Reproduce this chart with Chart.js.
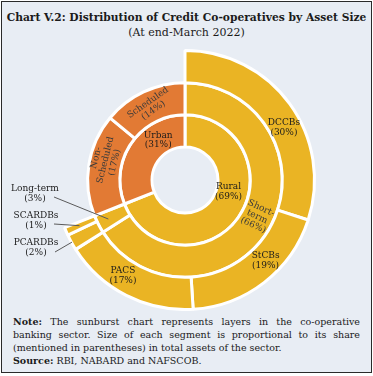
<!DOCTYPE html>
<html>
<head>
<meta charset="utf-8">
<script src="https://cdn.jsdelivr.net/npm/chart.js@4.4.1/dist/chart.umd.min.js"></script>
<style>
  html, body { margin: 0; padding: 0; background: #fff; }
  body { width: 373px; height: 376px; position: relative; overflow: hidden; font-family: "DejaVu Serif", serif; color: #1b1b1b; }
  #frame { position: absolute; left: 1px; top: 1px; width: 369px; height: 370px; border: 1.5px solid #2a2a2a; background: #e8edf4; }
  #title { position: absolute; left: 0; top: 11px; width: 373px; text-align: center; font-weight: bold; font-size: 10.7px; white-space: nowrap; }
  #subtitle { position: absolute; left: 0; top: 26px; width: 373px; text-align: center; font-size: 11px; }
  #chartBox { position: absolute; left: 0; top: 49px; width: 373px; height: 262px; }
  #note { position: absolute; left: 13px; top: 315px; width: 347px; font-size: 9.5px; line-height: 13px; }
  #note div { text-align: justify; white-space: nowrap; }
  #note .full { text-align-last: justify; white-space: normal; }
</style>
</head>
<body>
<div id="frame"></div>
<div id="title">Chart V.2: Distribution of Credit Co-operatives by Asset Size</div>
<div id="subtitle">(At end-March 2022)</div>
<div id="chartBox"><canvas id="sunburst"></canvas></div>
<div id="note">
  <div class="full"><b>Note:</b> The sunburst chart represents layers in the co-operative</div>
  <div class="full">banking sector. Size of each segment is proportional to its share</div>
  <div>(mentioned in parentheses) in total assets of the sector.</div>
  <div><b>Source:</b> RBI, NABARD and NAFSCOB.</div>
</div>
<script>
// shares of total assets (%), innermost ring first
const innerLabels = ['Rural', 'Urban'];
const innerShares = [69, 31];
const middleLabels = ['Short-term', 'Long-term', 'Non-Scheduled', 'Scheduled'];
const middleShares = [66, 3, 17, 14];
const middleParent = ['Rural', 'Rural', 'Urban', 'Urban'];
const outerLabels = ['DCCBs', 'StCBs', 'PACS', 'PCARDBs', 'SCARDBs'];
const outerShares = [30, 19, 17, 2, 1];

const ruralColor = '#eab424';
const urbanColor = '#e27a34';
const colorOf = p => p === 'Rural' ? ruralColor : urbanColor;

// outer ring only covers the rural branch; the rest stays empty
const outerGap = 100 - outerShares.reduce((a, b) => a + b, 0);

// where each label sits: angle clockwise from 12 o'clock, distance from centre, text rotation
const labelSpots = {
  'Rural':         { angle: 105, r: 45,  rot: 0 },
  'Urban':         { angle: 326, r: 48,  rot: 0 },
  'Short-term':    { angle: 117, r: 81,  rot: 25, lines: ['Short-', 'term'] },
  'Non-Scheduled': { angle: 284, r: 82,  rot: -76, lines: ['Non-', 'Scheduled'] },
  'Scheduled':     { angle: 335, r: 81,  rot: -35 },
  'DCCBs':         { angle: 62,  r: 112, rot: 0 },
  'StCBs':         { angle: 135, r: 114, rot: 0 },
  'PACS':          { angle: 213, r: 114, rot: 0 }
};
// labels placed outside with a leader line: text x/y in canvas px, line end radius
const calloutSpots = {
  'Long-term': { x: 35, y: 140, lineFrom: [54, 148], r: 86 },
  'SCARDBs':   { x: 36, y: 167, lineFrom: [54, 175], r: 115 },
  'PCARDBs':   { x: 36, y: 194, lineFrom: [55, 203], r: 129 }
};

const sunburstLabels = {
  id: 'sunburstLabels',
  afterDatasetsDraw(chart) {
    const ctx = chart.ctx;
    const rings = [outerLabels, middleLabels, innerLabels];
    const shares = [outerShares, middleShares, innerShares];
    ctx.save();
    ctx.font = '9px "DejaVu Serif"';
    ctx.textAlign = 'center';
    ctx.textBaseline = 'middle';
    rings.forEach((names, d) => {
      const meta = chart.getDatasetMeta(d);
      names.forEach((name, i) => {
        const arc = meta.data[i];
        const text = (labelSpots[name] && labelSpots[name].lines || [name]).concat('(' + shares[d][i] + '%)');
        const spot = labelSpots[name];
        if (spot) {
          const a = spot.angle * Math.PI / 180;
          const x = arc.x + spot.r * Math.sin(a);
          const y = arc.y - spot.r * Math.cos(a);
          ctx.save();
          ctx.translate(x, y);
          ctx.rotate(spot.rot * Math.PI / 180);
          ctx.fillStyle = spot.rot ? '#3a3a3a' : '#1b1b1b';
          text.forEach((t, k) => ctx.fillText(t, 0, (k - (text.length - 1) / 2) * 9.5));
          ctx.restore();
        }
        const call = calloutSpots[name];
        if (call) {
          const mid = (arc.startAngle + arc.endAngle) / 2;
          const ex = arc.x + call.r * Math.cos(mid);
          const ey = arc.y + call.r * Math.sin(mid);
          ctx.strokeStyle = '#5a5a5a';
          ctx.lineWidth = 1;
          ctx.beginPath();
          ctx.moveTo(call.lineFrom[0], call.lineFrom[1]);
          ctx.lineTo(ex, ey);
          ctx.stroke();
          ctx.fillStyle = '#1b1b1b';
          text.forEach((t, k) => ctx.fillText(t, call.x, call.y + k * 9.5));
        }
      });
    });
    ctx.restore();
  }
};

new Chart(document.getElementById('sunburst'), {
  type: 'doughnut',
  data: {
    labels: outerLabels,
    datasets: [
      {
        data: outerShares.concat(outerGap),
        backgroundColor: outerShares.map(() => ruralColor).concat('rgba(0,0,0,0)'),
        borderColor: outerShares.map(() => '#ffffff').concat('rgba(0,0,0,0)'),
        borderWidth: 3
      },
      {
        data: middleShares,
        backgroundColor: middleParent.map(colorOf),
        borderColor: '#ffffff',
        borderWidth: 3
      },
      {
        data: innerShares,
        backgroundColor: innerLabels.map(colorOf),
        borderColor: '#ffffff',
        borderWidth: 3
      }
    ]
  },
  options: {
    responsive: true,
    maintainAspectRatio: false,
    animation: false,
    cutout: 33,
    layout: { padding: { left: 54, right: 57, top: 0, bottom: 0 } },
    plugins: {
      legend: { display: false },
      tooltip: { enabled: false }
    }
  },
  plugins: [sunburstLabels]
});
</script>
</body>
</html>
